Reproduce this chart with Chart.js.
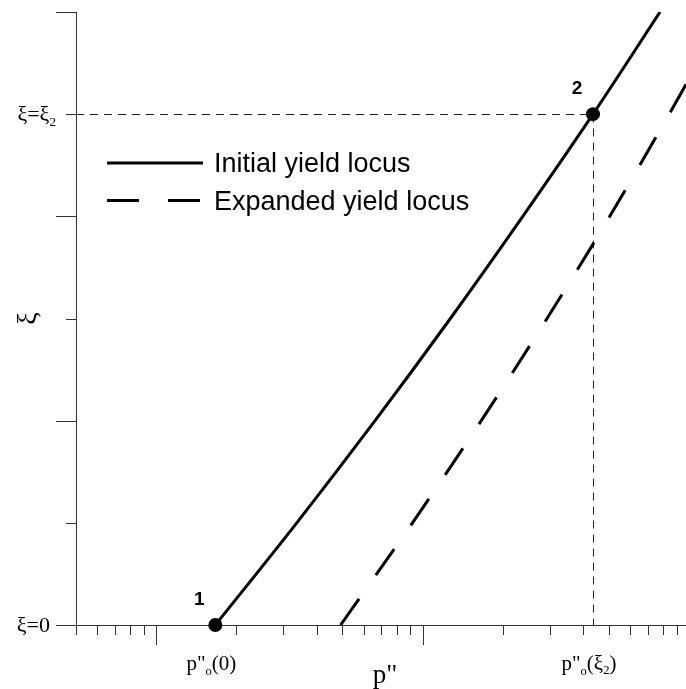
<!DOCTYPE html>
<html>
<head>
<meta charset="utf-8">
<script src="https://cdn.jsdelivr.net/npm/chart.js@4.4.1/dist/chart.umd.min.js"></script>
<style>
  html, body { margin: 0; padding: 0; background: #fff; }
</style>
</head>
<body>
<canvas id="chart" width="686" height="689"></canvas>
<script>
// yield locus curves, xi (y) against p'' (log x)
const INITIAL_XI = [0, 1, 2, 3, 4, 5, 6];
const INITIAL_P = [1.667, 3.37, 6.63, 12.71, 23.77, 43.6, 77.8];
const EXPANDED_XI = [0, 1, 2, 3, 4, 5, 5.5];
const EXPANDED_P = [4.92, 9.16, 16.6, 29.3, 50.4, 84.2, 108];

// marked states
const STATE_P = [1.667, 43.6];
const STATE_XI = [0, 5];
const STATE_NAMES = ["1", "2"];

// axis range and ticks
const X_MIN = 0.5, X_MAX = 97.4;
const Y_MIN = 0, Y_MAX = 6;
const X_MAJOR = [1, 10];
const X_MINOR = [0.5, 0.6, 0.7, 0.8, 0.9, 2, 3, 4, 5, 6, 7, 8, 9, 20, 30, 40, 50, 60, 70, 80, 90];
const Y_MAJOR = [0, 2, 4, 6];
const Y_MINOR = [1, 3, 5];
const Y_LABEL_VALUES = [0, 5];
const Y_LABEL_SUBS = ["ξ=0", "ξ=ξ|2"];   // "|" marks start of subscript
const X_LABEL_VALUES = [1.667, 43.6];
const X_LABEL_ARGS = ["0", "ξ|2"];

const pts = (xs, ys) => xs.map((x, i) => ({ x, y: ys[i] }));

const SERIF = '"Liberation Serif", "Times New Roman", serif';
const SANS = '"Liberation Sans", Arial, sans-serif';

// draws text where "|" switches to a small lowered subscript
function drawSub(ctx, str, x, y, size, align) {
  const [main, sub] = str.split("|");
  ctx.font = `${size}px ${SERIF}`;
  const w1 = ctx.measureText(main).width;
  ctx.font = `${size * 0.6}px ${SERIF}`;
  const w2 = sub ? ctx.measureText(sub).width : 0;
  let left = x;
  if (align === "right") left = x - w1 - w2;
  if (align === "center") left = x - (w1 + w2) / 2;
  ctx.textAlign = "left";
  ctx.font = `${size}px ${SERIF}`;
  ctx.fillText(main, left, y);
  if (sub) {
    ctx.font = `${size * 0.6}px ${SERIF}`;
    ctx.fillText(sub, left + w1, y + size * 0.2);
  }
}

// p''_o(arg) label
function drawPLabel(ctx, arg, cx, baseline, size) {
  const parts = [
    { t: "p", s: size, dy: 0 },
    { t: "\"", s: size, dy: 0 },
    { t: "o", s: size * 0.6, dy: size * 0.25 },
    { t: "(", s: size, dy: 0 },
  ];
  const [a, sub] = arg.split("|");
  parts.push({ t: a, s: size, dy: 0 });
  if (sub) parts.push({ t: sub, s: size * 0.6, dy: size * 0.2 });
  parts.push({ t: ")", s: size, dy: 0 });
  let total = 0;
  parts.forEach(p => { ctx.font = `${p.s}px ${SERIF}`; p.w = ctx.measureText(p.t).width; total += p.w; });
  let x = cx - total / 2;
  ctx.textAlign = "left";
  parts.forEach(p => {
    ctx.font = `${p.s}px ${SERIF}`;
    ctx.fillText(p.t, x, baseline + p.dy);
    x += p.w;
  });
}

const axesPlugin = {
  id: "axes",
  beforeDatasetsDraw(chart) {
    const { ctx, chartArea: a, scales: { x, y } } = chart;
    ctx.save();
    ctx.strokeStyle = "#333";
    ctx.lineWidth = 1;
    ctx.beginPath();
    ctx.moveTo(a.left + 0.5, a.top);
    ctx.lineTo(a.left + 0.5, a.bottom);
    ctx.moveTo(a.left, a.bottom + 0.5);
    ctx.lineTo(a.right, a.bottom + 0.5);
    Y_MAJOR.forEach(v => { const py = Math.round(y.getPixelForValue(v)) + 0.5; ctx.moveTo(a.left - 20, py); ctx.lineTo(a.left, py); });
    Y_MINOR.forEach(v => { const py = Math.round(y.getPixelForValue(v)) + 0.5; ctx.moveTo(a.left - 10, py); ctx.lineTo(a.left, py); });
    X_MAJOR.forEach(v => { const px = Math.round(x.getPixelForValue(v)) + 0.5; ctx.moveTo(px, a.bottom); ctx.lineTo(px, a.bottom + 20); });
    X_MINOR.forEach(v => { const px = Math.round(x.getPixelForValue(v)) + 0.5; ctx.moveTo(px, a.bottom); ctx.lineTo(px, a.bottom + 10); });
    ctx.stroke();

    // thin dashed guides through state 2, snapped to whole pixels
    const gx = Math.round(x.getPixelForValue(STATE_P[1])) + 0.5;
    const gy = Math.round(y.getPixelForValue(STATE_XI[1])) + 0.5;
    ctx.strokeStyle = "#222";
    ctx.setLineDash([8, 6]);
    ctx.beginPath();
    ctx.moveTo(a.left, gy);
    ctx.lineTo(gx, gy);
    ctx.moveTo(gx, gy);
    ctx.lineTo(gx, a.bottom);
    ctx.stroke();
    ctx.restore();
  },
  afterDraw(chart) {
    const { ctx, chartArea: a, scales: { x, y } } = chart;
    ctx.save();
    ctx.fillStyle = "#000";
    ctx.textBaseline = "alphabetic";

    // y tick labels
    Y_LABEL_VALUES.forEach((v, i) => {
      drawSub(ctx, Y_LABEL_SUBS[i], i === 0 ? 50 : 56, y.getPixelForValue(v) + 7, 22, "right");
    });
    // y title
    ctx.save();
    ctx.translate(36, (a.top + a.bottom) / 2);
    ctx.rotate(-Math.PI / 2);
    ctx.font = `28px ${SERIF}`;
    ctx.textAlign = "center";
    ctx.fillText("ξ", 0, 0);
    ctx.restore();

    // x tick labels and title
    X_LABEL_VALUES.forEach((v, i) => drawPLabel(ctx, X_LABEL_ARGS[i], x.getPixelForValue(v) - 4, 670, 21));
    ctx.font = `27px ${SERIF}`;
    ctx.textAlign = "center";
    ctx.fillText("p\"", 385, 683);

    // state numbers
    ctx.font = `bold 19px ${SANS}`;
    ctx.textAlign = "center";
    STATE_P.forEach((v, i) => {
      ctx.fillText(STATE_NAMES[i], x.getPixelForValue(v) - 16, y.getPixelForValue(STATE_XI[i]) - 20);
    });

    // legend from the curve datasets
    const rows = chart.data.datasets.filter(d => d.legend);
    rows.forEach((d, i) => {
      const ly = 163 + i * 37.5;
      ctx.strokeStyle = d.borderColor;
      ctx.lineWidth = d.borderWidth;
      ctx.setLineDash(d.borderDash || []);
      ctx.beginPath();
      ctx.moveTo(107, ly);
      ctx.lineTo(203, ly);
      ctx.stroke();
      ctx.setLineDash([]);
      ctx.font = `27px ${SANS}`;
      ctx.textAlign = "left";
      ctx.fillText(d.label, 214, ly + 9);
    });
    ctx.restore();
  }
};

new Chart(document.getElementById("chart"), {
  type: "scatter",
  data: {
    datasets: [
      {
        label: "Initial yield locus", legend: true,
        data: pts(INITIAL_P, INITIAL_XI),
        showLine: true, borderColor: "#000", borderWidth: 3, pointRadius: 0,
        cubicInterpolationMode: "monotone",
      },
      {
        label: "Expanded yield locus", legend: true,
        data: pts(EXPANDED_P, EXPANDED_XI),
        showLine: true, borderColor: "#000", borderWidth: 3, borderDash: [32, 29], pointRadius: 0,
        cubicInterpolationMode: "monotone",
      },
      {
        label: "states",
        data: pts(STATE_P, STATE_XI),
        pointRadius: 7, pointBackgroundColor: "#000", pointBorderWidth: 0, clip: false,
      },
    ],
  },
  options: {
    responsive: false,
    devicePixelRatio: 1,
    animation: false,
    layout: { autoPadding: false, padding: { left: 76, top: 12, right: 0, bottom: 64 } },
    plugins: { legend: { display: false }, tooltip: { enabled: false } },
    scales: {
      x: { type: "logarithmic", min: X_MIN, max: X_MAX, display: false },
      y: { type: "linear", min: Y_MIN, max: Y_MAX, display: false },
    },
  },
  plugins: [axesPlugin],
});
</script>
</body>
</html>
